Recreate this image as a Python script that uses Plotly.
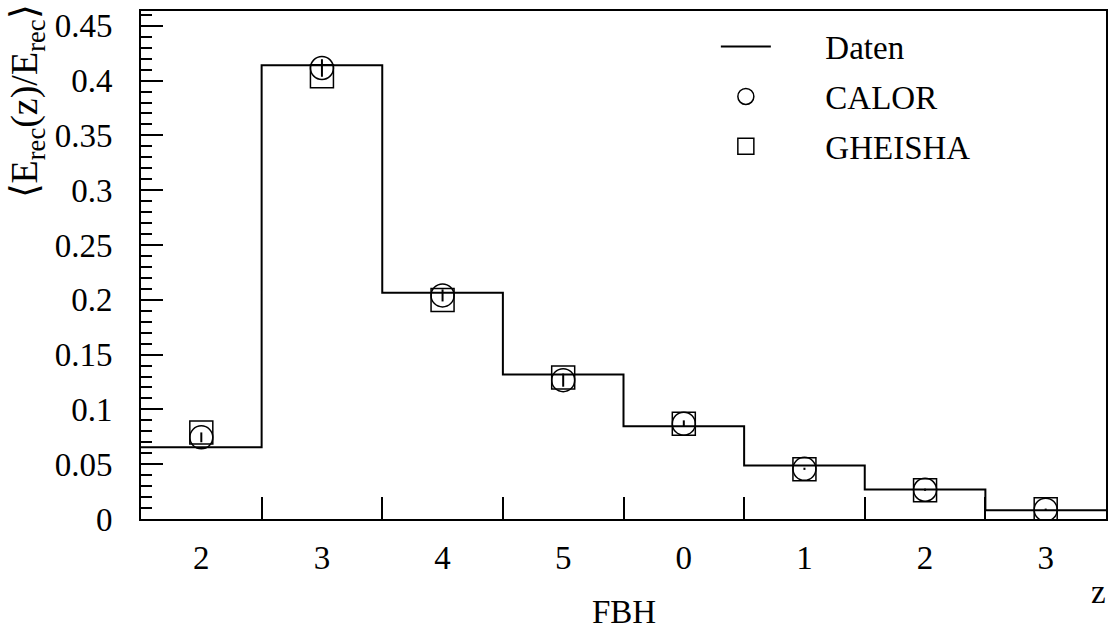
import numpy as np
import plotly.graph_objects as go

# ---- data ----
categories = ["2", "3", "4", "5", "0", "1", "2", "3"]
daten = [0.0655, 0.414, 0.2064, 0.1318, 0.0846, 0.0488, 0.027, 0.0079]
calor = [0.0745, 0.4115, 0.204, 0.1267, 0.087, 0.0458, 0.0267, 0.0085]
calor_err = [0.0045, 0.008, 0.0055, 0.006, 0.003, 0.001, 0.001, 0.001]
gheisha = [0.079, 0.404, 0.1999, 0.129, 0.087, 0.0454, 0.0263, 0.009]
y_ticks = [0, 0.05, 0.1, 0.15, 0.2, 0.25, 0.3, 0.35, 0.4, 0.45]
y_tick_text = ["0", "0.05", "0.1", "0.15", "0.2", "0.25", "0.3", "0.35", "0.4", "0.45"]

n = len(categories)
centers = np.arange(n) + 0.5
edges = np.arange(n + 1)

FONT = "Liberation Serif, Times New Roman, Times, serif"
GAP = "\u2003\u2002"

fig = go.Figure()

fig.add_trace(go.Scatter(
    x=edges, y=daten + [daten[-1]], mode="lines", line_shape="hv",
    line=dict(color="black", width=2), name=GAP + "Daten", legendgroup="a",
))
fig.add_trace(go.Scatter(
    x=centers, y=calor, mode="markers", name=GAP + "CALOR", legendgroup="b",
    marker=dict(symbol="circle-open", size=23, color="black", line=dict(width=1.5, color="black")),
    error_y=dict(type="data", array=calor_err, width=0, thickness=2, color="black"),
))
fig.add_trace(go.Scatter(
    x=centers, y=gheisha, mode="markers", name=GAP + "GHEISHA", legendgroup="c",
    marker=dict(symbol="square-open", size=23, color="black", line=dict(width=1.5, color="black")),
))

fig.update_layout(
    width=1116, height=637,
    margin=dict(l=141, r=8, t=9, b=118),
    paper_bgcolor="white", plot_bgcolor="white",
    font=dict(family=FONT, size=33, color="black"),
    showlegend=True,
    legend=dict(
        x=0.5957, y=0.985, xanchor="left", yanchor="top",
        bgcolor="rgba(0,0,0,0)", font=dict(family=FONT, size=33),
        tracegroupgap=4, itemwidth=50,
    ),
    xaxis=dict(
        range=[0, n], showgrid=False, zeroline=False,
        showline=True, linecolor="black", linewidth=2, mirror=True,
        tickvals=centers, ticktext=categories, ticks="", ticklabelstandoff=8,
        tickfont=dict(family=FONT, size=33),
        minor=dict(tickvals=edges[1:-1], ticks="inside", ticklen=22, tickwidth=1.5, tickcolor="black"),
    ),
    yaxis=dict(
        range=[0, 0.4635], showgrid=False, zeroline=False,
        showline=True, linecolor="black", linewidth=2, mirror=True,
        tickvals=y_ticks, ticktext=y_tick_text, ticks="inside", ticklen=22, tickwidth=1.5,
        tickcolor="black", ticklabelstandoff=20,
        tickfont=dict(family=FONT, size=33),
        minor=dict(dtick=0.01, ticks="inside", ticklen=11, tickwidth=1.5, tickcolor="black"),
    ),
    annotations=[
        dict(text="FBH", xref="paper", yref="paper", x=0.5, y=-0.183,
             xanchor="center", yanchor="middle", showarrow=False,
             font=dict(family=FONT, size=33)),
        dict(text="z", xref="paper", yref="paper", x=0.992, y=-0.144,
             xanchor="center", yanchor="middle", showarrow=False,
             font=dict(family=FONT, size=33)),
        dict(text="\u27e8E<sub>rec</sub>(z)/E<sub>rec</sub>\u27e9", xref="paper", yref="paper",
             x=-0.118, y=1.017, xanchor="center", yanchor="top", textangle=-90,
             showarrow=False, font=dict(family=FONT, size=38)),
    ],
)

fig.write_html("out.html", config={"displayModeBar": False},
               post_script="document.body.style.margin='0px';")
